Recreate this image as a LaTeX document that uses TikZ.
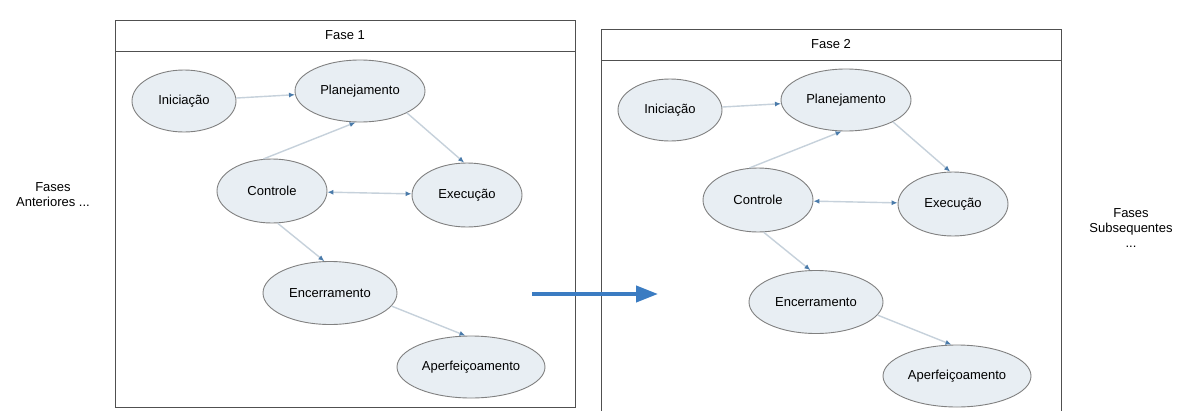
\documentclass[tikz,border=0pt]{standalone}
\usepackage{fontspec}
\setmainfont{Liberation Sans}
\usetikzlibrary{arrows.meta,shapes.geometric}

\definecolor{elfill}{HTML}{E8EEF3}
\definecolor{eldraw}{HTML}{808080}
\definecolor{framegray}{HTML}{505050}
\definecolor{linkline}{HTML}{C6D1DB}
\definecolor{linktip}{HTML}{4A7BAA}
\definecolor{flowblue}{HTML}{3B7CC2}

\tikzset{
    etapa/.style={draw=eldraw, fill=elfill, ellipse, inner sep=0pt, line width=0.9pt},
    ligacao/.style={draw=linkline, line width=1.4pt, -{Latex[length=6pt,width=5pt,color=linktip]}},
    ligacaodupla/.style={draw=linkline, line width=1.4pt, {Latex[length=6pt,width=5pt,color=linktip]}-{Latex[length=6pt,width=5pt,color=linktip]}}
}

\begin{document}
\begin{tikzpicture}[x=1pt, y=-1pt, font=\fontsize{13}{15}\selectfont]
            \useasboundingbox (0,0) rectangle (1185,410);
            \fill[white] (0,0) rectangle (1185,410);

            % Side texts
            \node[align=center] (Anteriores) at (53,195) {Fases\\Anteriores ...};
            \node[align=center] (Subsequentes) at (1131,228) {Fases\\Subsequentes\\...};

            % Phases 1 and 2
            \foreach \f/\dx/\dy in {1/0/0, 2/486/9}
            {
                \begin{scope}[shift={(\dx,\dy)}]
                    % Frame and title
                    \draw[framegray, line width=1pt] (115,20) rectangle (575,407);
                    \draw[framegray, line width=1pt] (115,51) -- (575,51);
                    \node (Titulo-\f) at (345,35.5) {Fase \f};

                    % Stages
                    \node[etapa, minimum width=104pt, minimum height=62pt] (Iniciacao-\f) at (184,101) {Iniciação};
                    \node[etapa, minimum width=130pt, minimum height=62pt] (Planejamento-\f) at (360,91) {Planejamento};
                    \node[etapa, minimum width=110pt, minimum height=64pt] (Controle-\f) at (272,191) {Controle};
                    \node[etapa, minimum width=110pt, minimum height=64pt] (Execucao-\f) at (467,195) {Execução};
                    \node[etapa, minimum width=134pt, minimum height=63pt] (Encerramento-\f) at (330,293) {Encerramento};
                    \node[etapa, minimum width=148pt, minimum height=62pt] (Aperfeicoamento-\f) at (471,367) {Aperfeiçoamento};

                    % Connections
                    \draw[ligacao] (Iniciacao-\f) -- (Planejamento-\f);
                    \draw[ligacao] (Controle-\f.105) -- (Planejamento-\f.262);
                    \draw[ligacao] (Planejamento-\f.-25) -- (Execucao-\f.95);
                    \draw[ligacaodupla] (Controle-\f) -- (Execucao-\f);
                    \draw[ligacao] (Controle-\f.-80) -- (Encerramento-\f.100);
                    \draw[ligacao] (Encerramento-\f.-12) -- (Aperfeicoamento-\f.100);
                \end{scope}
            }

            % Transition arrow
            \coordinate (SetaInicio) at (532,294);
            \coordinate (SetaFim) at (658,294);
            \draw[flowblue, line width=4pt, -{Triangle[length=22pt,width=16pt]}] (SetaInicio) -- (SetaFim);
\end{tikzpicture}
\end{document}
